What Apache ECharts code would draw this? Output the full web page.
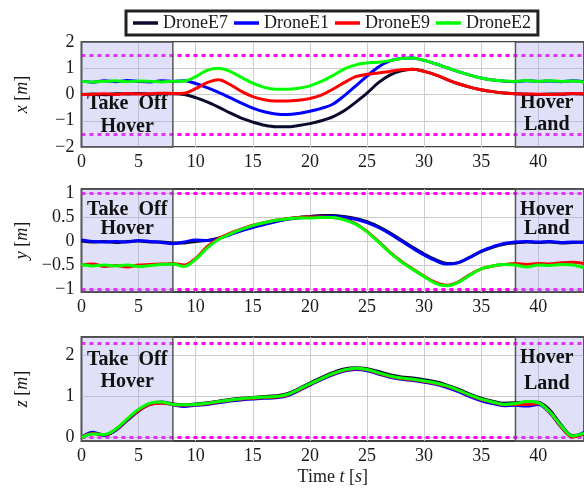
<!DOCTYPE html>
<html>
<head>
<meta charset="utf-8">
<script src="https://cdn.jsdelivr.net/npm/echarts@6/dist/echarts.min.js"></script>
<style>
html, body { margin: 0; padding: 0; background: #fff; }
#chart { width: 584px; height: 488px; }
</style>
</head>
<body>
<div id="chart"></div>
<script>
// Flight log of four drones: position components vs. time
const time = [0, 1, 2, 3, 4, 5, 6, 7, 8, 9, 10, 11, 12, 13, 14, 15, 16, 17, 18, 19, 20, 21,
  22, 23, 24, 25, 26, 27, 28, 29, 30, 31, 32, 33, 34, 35, 36, 37, 38, 39, 40, 41, 42, 43, 44];

const droneNames = ['DroneE7', 'DroneE1', 'DroneE9', 'DroneE2'];
const droneColors = ['#0a0a2e', '#0000ff', '#ff0000', '#00ff00'];

// x position [m]
const xE7 = [0.0, 0.02, -0.01, 0.03, 0.02, 0.04, 0.01, 0.03, 0.03, 0.0, -0.12, -0.28, -0.48, -0.7, -0.9,
  -1.05, -1.17, -1.23, -1.23, -1.18, -1.11, -1.0, -0.85, -0.62, -0.3, 0.05, 0.45, 0.74, 0.9, 0.96,
  0.88, 0.75, 0.57, 0.41, 0.28, 0.18, 0.11, 0.06, 0.03, 0.01, 0.0, 0.02, 0.01, 0.03, 0.02];
const xE1 = [0.5, 0.47, 0.52, 0.49, 0.53, 0.5, 0.48, 0.52, 0.5, 0.52, 0.42, 0.26, 0.08, -0.12, -0.33,
  -0.52, -0.66, -0.74, -0.76, -0.72, -0.64, -0.53, -0.37, -0.05, 0.32, 0.7, 1.05, 1.28, 1.37, 1.39,
  1.3, 1.17, 1.02, 0.87, 0.74, 0.63, 0.55, 0.51, 0.49, 0.52, 0.5, 0.51, 0.49, 0.52, 0.48];
const xE9 = [0.0, 0.01, 0.03, 0.0, 0.04, 0.02, 0.03, 0.05, 0.04, 0.05, 0.22, 0.45, 0.56, 0.38, 0.12,
  -0.08, -0.2, -0.25, -0.25, -0.22, -0.15, -0.02, 0.2, 0.45, 0.68, 0.77, 0.82, 0.88, 0.94, 0.96,
  0.88, 0.75, 0.57, 0.41, 0.28, 0.18, 0.11, 0.06, 0.03, 0.02, 0.01, 0.0, 0.02, 0.04, 0.03];
const xE2 = [0.5, 0.48, 0.5, 0.52, 0.49, 0.51, 0.5, 0.48, 0.5, 0.51, 0.68, 0.92, 1.0, 0.88, 0.65,
  0.43, 0.27, 0.2, 0.2, 0.24, 0.33, 0.5, 0.72, 0.97, 1.13, 1.2, 1.23, 1.29, 1.37, 1.39,
  1.3, 1.17, 1.02, 0.87, 0.74, 0.63, 0.55, 0.51, 0.5, 0.53, 0.5, 0.52, 0.5, 0.51, 0.47];

// y position [m]
const yE7 = [0.0, -0.02, -0.01, -0.03, -0.01, 0.0, -0.02, -0.02, -0.04, -0.04, -0.01, 0.01, 0.06, 0.14,
  0.22, 0.29, 0.35, 0.41, 0.46, 0.49, 0.51, 0.53, 0.53, 0.51, 0.47, 0.4, 0.3, 0.17, 0.02, -0.13,
  -0.27, -0.39, -0.47, -0.45, -0.34, -0.22, -0.13, -0.07, -0.04, -0.02, -0.03, -0.02, -0.04, -0.03, -0.02];
const yE1 = [0.02, -0.01, -0.02, -0.01, -0.02, 0.01, -0.01, -0.03, -0.06, -0.02, 0.02, 0.01, 0.05, 0.13,
  0.21, 0.28, 0.34, 0.4, 0.45, 0.48, 0.5, 0.51, 0.51, 0.49, 0.45, 0.38, 0.28, 0.15, 0.0, -0.15,
  -0.29, -0.41, -0.48, -0.45, -0.34, -0.21, -0.12, -0.05, -0.02, -0.01, -0.02, -0.01, -0.03, -0.02, -0.03];
const yE9 = [-0.5, -0.48, -0.53, -0.51, -0.54, -0.5, -0.49, -0.48, -0.47, -0.5, -0.36, -0.12, 0.05, 0.16,
  0.25, 0.33, 0.38, 0.43, 0.46, 0.49, 0.5, 0.5, 0.49, 0.45, 0.36, 0.2, -0.01, -0.23, -0.42, -0.58,
  -0.73, -0.86, -0.92, -0.85, -0.7, -0.58, -0.52, -0.49, -0.47, -0.49, -0.47, -0.48, -0.45, -0.44, -0.47];
const yE2 = [-0.49, -0.52, -0.5, -0.52, -0.5, -0.53, -0.51, -0.49, -0.48, -0.53, -0.38, -0.15, 0.03, 0.14,
  0.24, 0.32, 0.38, 0.43, 0.46, 0.48, 0.48, 0.49, 0.49, 0.44, 0.35, 0.19, -0.02, -0.24, -0.43, -0.59,
  -0.74, -0.88, -0.93, -0.86, -0.71, -0.58, -0.52, -0.49, -0.5, -0.54, -0.5, -0.51, -0.49, -0.5, -0.56];

// z position [m]
const zE7 = [0.0, 0.1, 0.06, 0.18, 0.42, 0.65, 0.82, 0.86, 0.81, 0.79, 0.81, 0.84, 0.88, 0.92, 0.95,
  0.97, 0.99, 1.01, 1.06, 1.18, 1.32, 1.45, 1.57, 1.66, 1.69, 1.67, 1.6, 1.52, 1.47, 1.44,
  1.4, 1.35, 1.27, 1.17, 1.05, 0.95, 0.88, 0.83, 0.84, 0.86, 0.85, 0.66, 0.3, 0.04, 0.08];
const zE1 = [0.0, 0.12, 0.05, 0.17, 0.41, 0.64, 0.8, 0.84, 0.79, 0.75, 0.78, 0.8, 0.84, 0.88, 0.91,
  0.93, 0.95, 0.96, 1.01, 1.13, 1.27, 1.4, 1.52, 1.61, 1.65, 1.62, 1.54, 1.46, 1.41, 1.38,
  1.34, 1.29, 1.21, 1.11, 0.99, 0.89, 0.82, 0.77, 0.78, 0.76, 0.8, 0.6, 0.25, 0.02, 0.12];
const zE9 = [0.0, 0.09, 0.06, 0.19, 0.43, 0.65, 0.8, 0.83, 0.8, 0.78, 0.79, 0.82, 0.86, 0.9, 0.93,
  0.95, 0.97, 0.98, 1.03, 1.15, 1.29, 1.42, 1.54, 1.63, 1.67, 1.64, 1.56, 1.48, 1.43, 1.4,
  1.36, 1.31, 1.24, 1.14, 1.02, 0.92, 0.85, 0.79, 0.8, 0.8, 0.82, 0.61, 0.26, 0.01, 0.09];
const zE2 = [0.0, 0.08, 0.07, 0.2, 0.45, 0.68, 0.83, 0.86, 0.8, 0.79, 0.8, 0.83, 0.87, 0.91, 0.94,
  0.96, 0.98, 0.99, 1.04, 1.16, 1.3, 1.43, 1.55, 1.64, 1.68, 1.65, 1.57, 1.49, 1.44, 1.41,
  1.37, 1.32, 1.25, 1.15, 1.03, 0.93, 0.86, 0.8, 0.82, 0.87, 0.84, 0.62, 0.28, 0.03, 0.1];

// axis ticks and safety limits for each panel
const xTicks = [-2, -1, 0, 1, 2];
const yTicks = [-1, -0.5, 0, 0.5, 1];
const zTicks = [0, 1, 2];
const xLimits = [1.5, -1.5];
const yLimits = [1, -1];
const zLimits = [2.3, 0];

// flight phases (time spans)
const takeOffSpan = [0, 8];
const landSpan = [38, 44];
const takeOffText = 'Take  Off\nHover';
const landText = 'Hover\nLand';

const FONT = '"Liberation Serif", "DejaVu Serif", serif';
const TEXT = '#1a1a1a';

const panels = [
  { letter: 'x', data: [xE7, xE1, xE9, xE2], ticks: xTicks, limits: xLimits, min: -2, max: 2,
    top: 42, height: 105, leftLabel: [0, 51], rightLabel: [-3, 51], lh: [23, 22] },
  { letter: 'y', data: [yE7, yE1, yE9, yE2], ticks: yTicks, limits: yLimits, min: -1.06, max: 1.08,
    top: 189, height: 103, leftLabel: [0, 12], rightLabel: [-3, 12], lh: [19, 19] },
  { letter: 'z', data: [zE7, zE1, zE9, zE2], ticks: zTicks, limits: zLimits, min: -0.09, max: 2.44,
    top: 337, height: 104, leftLabel: [0, 13], rightLabel: [-3, 9], lh: [22, 26] }
];

const fmt = v => (v < 0 ? '\u2212' + Math.abs(v) : String(v));

const grids = [], xAxes = [], yAxes = [], series = [];

panels.forEach((p, i) => {
  grids.push({ left: 81.5, width: 508, top: p.top, height: p.height,
    show: true, borderColor: '#000', borderWidth: 1.5, backgroundColor: 'transparent' });

  const xa = {
    type: 'value', gridIndex: i, min: 0, max: 44, interval: 5,
    axisLine: { show: false },
    axisTick: { show: false },
    axisLabel: { fontFamily: FONT, fontSize: 18, color: TEXT, margin: 6, showMaxLabel: false },
    splitLine: { show: true, lineStyle: { color: '#cdcdcd', width: 1 } }
  };
  if (i === 2) {
    xa.name = 'Time {i|t} [{i|s}]';
    xa.nameLocation = 'middle';
    xa.nameGap = 27;
    xa.nameTextStyle = { fontFamily: FONT, fontSize: 18, color: TEXT,
      rich: { i: { fontFamily: FONT, fontSize: 18, fontStyle: 'italic', color: TEXT } } };
  }
  xAxes.push(xa);

  yAxes.push({
    type: 'value', gridIndex: i, min: p.min, max: p.max,
    axisLine: { show: false },
    axisTick: { show: false },
    axisLabel: { fontFamily: FONT, fontSize: 18, color: TEXT, margin: 7,
      customValues: p.ticks, formatter: fmt },
    splitLine: { show: false },
    name: '{i|' + p.letter + '} [{i|m}]',
    nameLocation: 'middle', nameRotate: 90, nameGap: 50,
    nameTextStyle: { fontFamily: FONT, fontSize: 18, color: TEXT,
      rich: { i: { fontFamily: FONT, fontSize: 18, fontStyle: 'italic', color: TEXT } } }
  });

  // phase shading, horizontal grid lines and safety limits
  const gridLines = p.ticks.map(v => ({ yAxis: v, lineStyle: { color: '#cdcdcd', width: 1, type: 'solid' } }));
  const limitLines = p.limits.map(v => ({ yAxis: v, lineStyle: { color: '#ff00ff', width: 3, type: [4, 4] } }));
  const phaseLabel = (text, off, lh) => ({
    show: true, position: 'insideTop', distance: 0, offset: off,
    formatter: text, fontFamily: FONT, fontSize: 20, fontWeight: 'bold', color: '#111',
    lineHeight: lh, align: 'center'
  });
  series.push({
    type: 'line', xAxisIndex: i, yAxisIndex: i, data: [], silent: true, animation: false, z: 1,
    markLine: {
      silent: true, z: 1, symbol: 'none', animation: false,
      label: { show: false },
      data: gridLines.concat(limitLines)
    }
  });
  series.push({
    type: 'line', xAxisIndex: i, yAxisIndex: i, data: [], silent: true, animation: false, z: 2,
    markArea: {
      silent: true, z: 2,
      itemStyle: { color: 'rgba(160,160,235,0.33)', borderColor: '#555', borderWidth: 1.5 },
      data: [
        [{ xAxis: takeOffSpan[0], label: phaseLabel(takeOffText, p.leftLabel, p.lh[0]) }, { xAxis: takeOffSpan[1] }],
        [{ xAxis: landSpan[0], label: phaseLabel(landText, p.rightLabel, p.lh[1]) }, { xAxis: landSpan[1] }]
      ]
    }
  });

  p.data.forEach((vals, k) => {
    series.push({
      name: droneNames[k], type: 'line', xAxisIndex: i, yAxisIndex: i,
      data: time.map((t, j) => [t, vals[j]]),
      showSymbol: false, symbol: 'none', smooth: 0.35, animation: false,
      color: droneColors[k], lineStyle: { width: 3, color: droneColors[k] }, z: 3
    });
  });
});

const chart = echarts.init(document.getElementById('chart'), null, { renderer: 'canvas' });
chart.setOption({
  backgroundColor: '#fff',
  animation: false,
  legend: {
    data: droneNames, top: 11, left: 126, orient: 'horizontal',
    padding: [3, 7, 3, 7], itemGap: 6, itemWidth: 25, itemHeight: 3.5, icon: 'rect',
    borderColor: '#222', borderWidth: 3, backgroundColor: '#fff',
    textStyle: { fontFamily: FONT, fontSize: 18, color: TEXT }
  },
  grid: grids, xAxis: xAxes, yAxis: yAxes, series
});
</script>
</body>
</html>
